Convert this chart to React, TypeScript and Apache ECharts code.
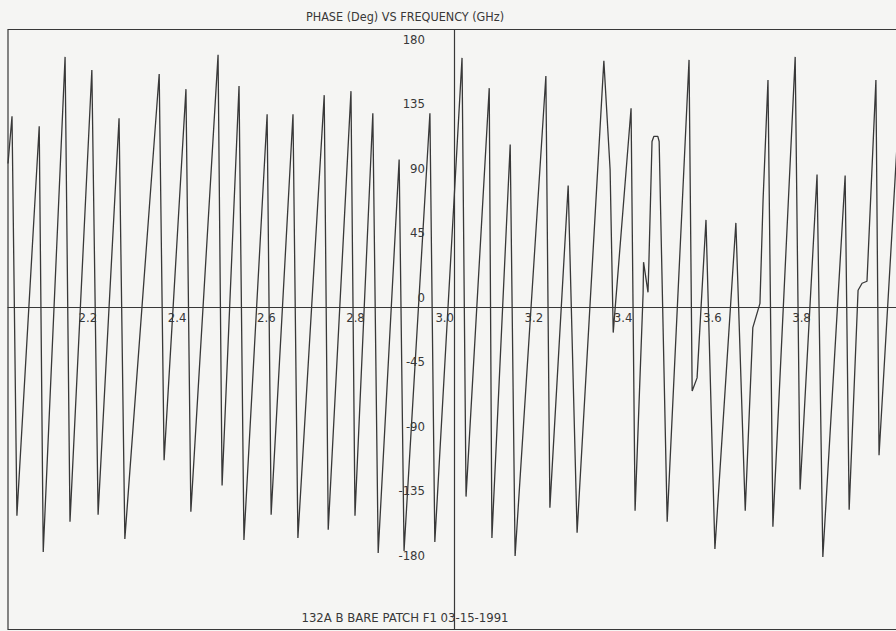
import React, { useEffect, useRef } from "react";
import * as echarts from "echarts";

// Frequency (GHz) of each plotted sample
const frequencyGHz = [
  2.0, 2.009, 2.02, 2.07, 2.079, 2.128, 2.139, 2.188, 2.202, 2.249,
  2.262, 2.339, 2.35, 2.399, 2.41, 2.471, 2.48, 2.518, 2.529, 2.581,
  2.59, 2.639, 2.65, 2.709, 2.718, 2.769, 2.778, 2.818, 2.83, 2.877,
  2.888, 2.946, 2.957, 3.018, 3.027, 3.079, 3.085, 3.126, 3.137, 3.206,
  3.215, 3.256, 3.276, 3.336, 3.35, 3.357, 3.397, 3.406, 3.424, 3.425,
  3.435, 3.437, 3.444, 3.448, 3.457, 3.46, 3.478, 3.527, 3.534, 3.545,
  3.565, 3.585, 3.632, 3.653, 3.67, 3.686, 3.693, 3.704, 3.715, 3.765,
  3.776, 3.814, 3.827, 3.877, 3.886, 3.906, 3.915, 3.926, 3.946, 3.953,
  3.998,
];

// Phase (degrees) at each of those frequencies
const phaseDeg = [
  100, 133.0, -145.6, 126.0, -170.9, 174.4, -149.8, 165.3, -144.9, 131.6,
  -161.8, 162.5, -107.0, 151.9, -142.8, 175.8, -124.6, 154.0, -162.5, 134.4,
  -144.9, 134.4, -161.1, 147.7, -155.4, 150.5, -145.6, 135.1, -171.6, 102.8,
  -170.2, 135.1, -163.9, 173.7, -132.3, 152.6, -161.1, 113.3, -173.7, 161.1,
  -140.0, 84.6, -157.5, 171.6, 95.8, -17.9, 138.6, -142.1, 9.5, 31.2,
  10.2, 31.2, 115.4, 118.9, 118.9, 115.4, -149.8, 172.3, -58.6, -49.5,
  60.7, -168.8, 58.6, -142.1, -14.4, 2.5, 74.7, 158.2, -153.3, 174.4,
  -127.4, 92.3, -174.4, 91.6, -141.4, 11.6, 16.5, 17.9, 158.2, -103.5,
  137.9,
];

const xTickLabels = ["2.2", "2.4", "2.6", "2.8", "3.0", "3.2", "3.4", "3.6", "3.8"];
const yTickValues = [-180, -135, -90, -45, 0, 45, 90, 135, 180];

const titleText = "PHASE (Deg) VS FREQUENCY (GHz)";
const captionText = "132A B BARE PATCH F1 03-15-1991";

const INK = "#383838";
const FONT = "'Liberation Sans Narrow', 'DejaVu Sans Condensed', 'Liberation Sans', sans-serif";

export default function App() {
  const ref = useRef<HTMLDivElement>(null);

  useEffect(() => {
    if (!ref.current) return;
    const chart = echarts.init(ref.current, null, { renderer: "svg" });
    const data = frequencyGHz.map((f, i) => [f, phaseDeg[i]]);

    const gridLeft = 8;
    const gridTop = 29.5;
    const gridWidth = 892;
    const gridHeight = 600;
    const yMin = -225;
    const yMax = 193.5;
    const xMin = 2;
    const xMax = 4;
    // pixel row of phase 0 and column of 3.0 GHz, to lay the crossing axes there
    const zeroY = gridTop + (yMax / (yMax - yMin)) * gridHeight;
    const xAxisOffset = -(gridTop + gridHeight - zeroY);
    const yAxisOffset = -((3.0 - xMin) / (xMax - xMin)) * gridWidth;

    chart.setOption({
      animation: false,
      backgroundColor: "#f5f5f3",
      grid: {
        left: gridLeft,
        top: gridTop,
        width: gridWidth,
        height: gridHeight,
        show: true,
        borderColor: INK,
        borderWidth: 1.2,
        backgroundColor: "transparent",
        containLabel: false,
        outerBoundsMode: "none",
      },
      xAxis: {
        type: "value",
        min: xMin,
        max: xMax,
        interval: 0.2,
        position: "bottom",
        offset: xAxisOffset,
        axisLine: { show: true, onZero: false, lineStyle: { color: INK, width: 1.2 } },
        axisTick: { show: false },
        splitLine: { show: false },
        axisLabel: {
          align: "right",
          margin: 4,
          color: INK,
          fontSize: 13,
          fontFamily: FONT,
          formatter: (v: number) => {
            const s = v.toFixed(1);
            return xTickLabels.includes(s) ? s : "";
          },
        },
      },
      yAxis: {
        type: "value",
        min: yMin,
        max: yMax,
        interval: 45,
        position: "left",
        offset: yAxisOffset,
        axisLine: { show: true, onZero: false, lineStyle: { color: INK, width: 1.2 } },
        axisTick: { show: false },
        splitLine: { show: false },
        axisLabel: {
          margin: 29,
          verticalAlign: "bottom",
          padding: [0, 0, 3, 0],
          color: INK,
          fontSize: 13,
          fontFamily: FONT,
          formatter: (v: number) => {
            const r = Math.round(v);
            return yTickValues.includes(r) && Math.abs(v - r) < 1e-6 ? String(r) : "";
          },
        },
      },
      series: [
        {
          type: "line",
          data,
          symbol: "none",
          showSymbol: false,
          clip: true,
          lineStyle: { color: INK, width: 1.3 },
        },
      ],
      graphic: [
        {
          type: "text",
          x: 405,
          y: 16.5,
          style: {
            text: titleText,
            fill: INK,
            font: `12.5px ${FONT}`,
            textAlign: "center",
            textVerticalAlign: "middle",
          },
        },
        {
          type: "text",
          x: 405,
          y: 617,
          style: {
            text: captionText,
            fill: INK,
            font: `13px ${FONT}`,
            textAlign: "center",
            textVerticalAlign: "middle",
          },
        },
      ],
    });

    return () => chart.dispose();
  }, []);

  return (
    <div
      ref={ref}
      style={{ position: "fixed", left: 0, top: 0, width: 900, height: 631 }}
    />
  );
}
